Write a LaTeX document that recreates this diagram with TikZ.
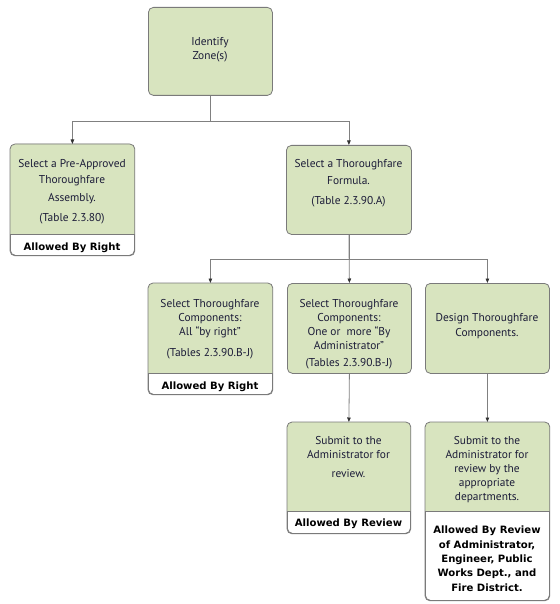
\documentclass[tikz,border=0pt]{standalone}
\usepackage{fontspec}
\setmainfont{PT Sans}
\newfontfamily\boldlab{DejaVu Sans}[FontFace={b}{n}{DejaVu Sans Bold}]
\usetikzlibrary{arrows.meta}
\definecolor{boxgreen}{HTML}{D8E4BF}
\definecolor{edgegray}{HTML}{7A7A7A}
\definecolor{linegray}{HTML}{808080}
\definecolor{textcol}{HTML}{1C1C38}
\tikzset{
  boxshape/.style={draw=edgegray, line width=0.8pt, rounded corners=5pt, inner sep=0pt, anchor=north west},
  gbox/.style={boxshape, fill=boxgreen},
  wbox/.style={boxshape, fill=white},
  txt/.style={font=\fontsize{11.4}{14}\selectfont, text=textcol, align=center, inner sep=0pt, anchor=north},
  btxt/.style={font=\boldlab\bfseries\fontsize{10.1}{14.3}\selectfont, text=black, align=center, inner sep=0pt},
  conn/.style={draw=linegray, line width=0.8pt},
  arr/.style={conn, -{Stealth[length=4.5pt,width=3.5pt,inset=0pt,color=black!80]}},
}
\newcommand{\splitfill}[2]{%
  \begin{scope}
    \clip (#1.north west) rectangle (#1.east |- 0,#2);
    \fill[boxgreen, rounded corners=5pt] (#1.north west) rectangle (#1.south east);
  \end{scope}
  \draw[edgegray, line width=0.8pt, rounded corners=5pt] (#1.north west) rectangle (#1.south east);
  \draw[edgegray, line width=0.8pt] (#1.west |- 0,#2) -- (#1.east |- 0,#2);
}
\begin{document}
\begin{tikzpicture}[x=1pt,y=-1pt]
\useasboundingbox (0,0) rectangle (559,604);

% boxes
\node[gbox, minimum width=124pt, minimum height=88pt] (zone) at (148,7) {};
\node[wbox, minimum width=124pt, minimum height=111pt] (pre) at (10,144) {};
\splitfill{pre}{234}
\node[gbox, minimum width=125pt, minimum height=89pt] (form) at (286,145) {};
\node[wbox, minimum width=124pt, minimum height=111pt] (sel1) at (148,283) {};
\splitfill{sel1}{373}
\node[gbox, minimum width=124pt, minimum height=90pt] (sel2) at (287,283) {};
\node[gbox, minimum width=124pt, minimum height=90pt] (des) at (425,283) {};
\node[wbox, minimum width=123pt, minimum height=111pt] (sub1) at (287,422) {};
\splitfill{sub1}{511}
\node[wbox, minimum width=124pt, minimum height=178pt] (sub2) at (425,422) {};
\splitfill{sub2}{511}

% texts
\node[txt] (zonet) at (210,37) {Identify\\Zone(s)};
\node[txt] (pret) at (72,159) {Select a Pre-Approved\\[2pt]Thoroughfare\\[4pt]Assembly.\\[6pt](Table 2.3.80)};
\node[btxt] (prel) at (72,247.5) {Allowed By Right};
\node[txt] (formt) at (348.5,159) {Select a Thoroughfare\\[3pt]Formula.\\[6pt](Table 2.3.90.A)};
\node[txt] (sel1t) at (210,299) {Select Thoroughfare\\Components:\\All ``by right''\\[7pt](Tables 2.3.90.B-J)};
\node[btxt] (sel1l) at (210,387) {Allowed By Right};
\node[txt] (sel2t) at (349,299) {Select Thoroughfare\\Components:\\One or\ \ more ``By\\Administrator''\\[3pt](Tables 2.3.90.B-J)};
\node[txt] (dest) at (487,313) {Design Thoroughfare\\[1pt]Components.};
\node[txt] (sub1t) at (348.5,436) {Submit to the\\Administrator for\\[5pt]review.};
\node[btxt] (sub1l) at (348.5,523.5) {Allowed By Review};
\node[txt] (sub2t) at (487,436) {Submit to the\\Administrator for\\review by the\\appropriate\\departments.};
\node[btxt, anchor=north] (sub2l) at (487,526) {Allowed By Review\\of Administrator,\\Engineer, Public\\Works Dept., and\\Fire District.};

% connectors
\draw[arr] (zone.south) -- ++(0,26) -| (pre.north);
\draw[arr] (zone.south) -- ++(0,26) -| (form.north);
\draw[arr] (form.south) -- ++(0,25) -| (sel1.north);
\draw[arr] (form.south) -- (sel2.north);
\draw[arr] (form.south) -- ++(0,25) -| (des.north);
\draw[arr] (sel2.south) -- (sub1.north);
\draw[arr] (des.south) -- (sub2.north);
\end{tikzpicture}
\end{document}
